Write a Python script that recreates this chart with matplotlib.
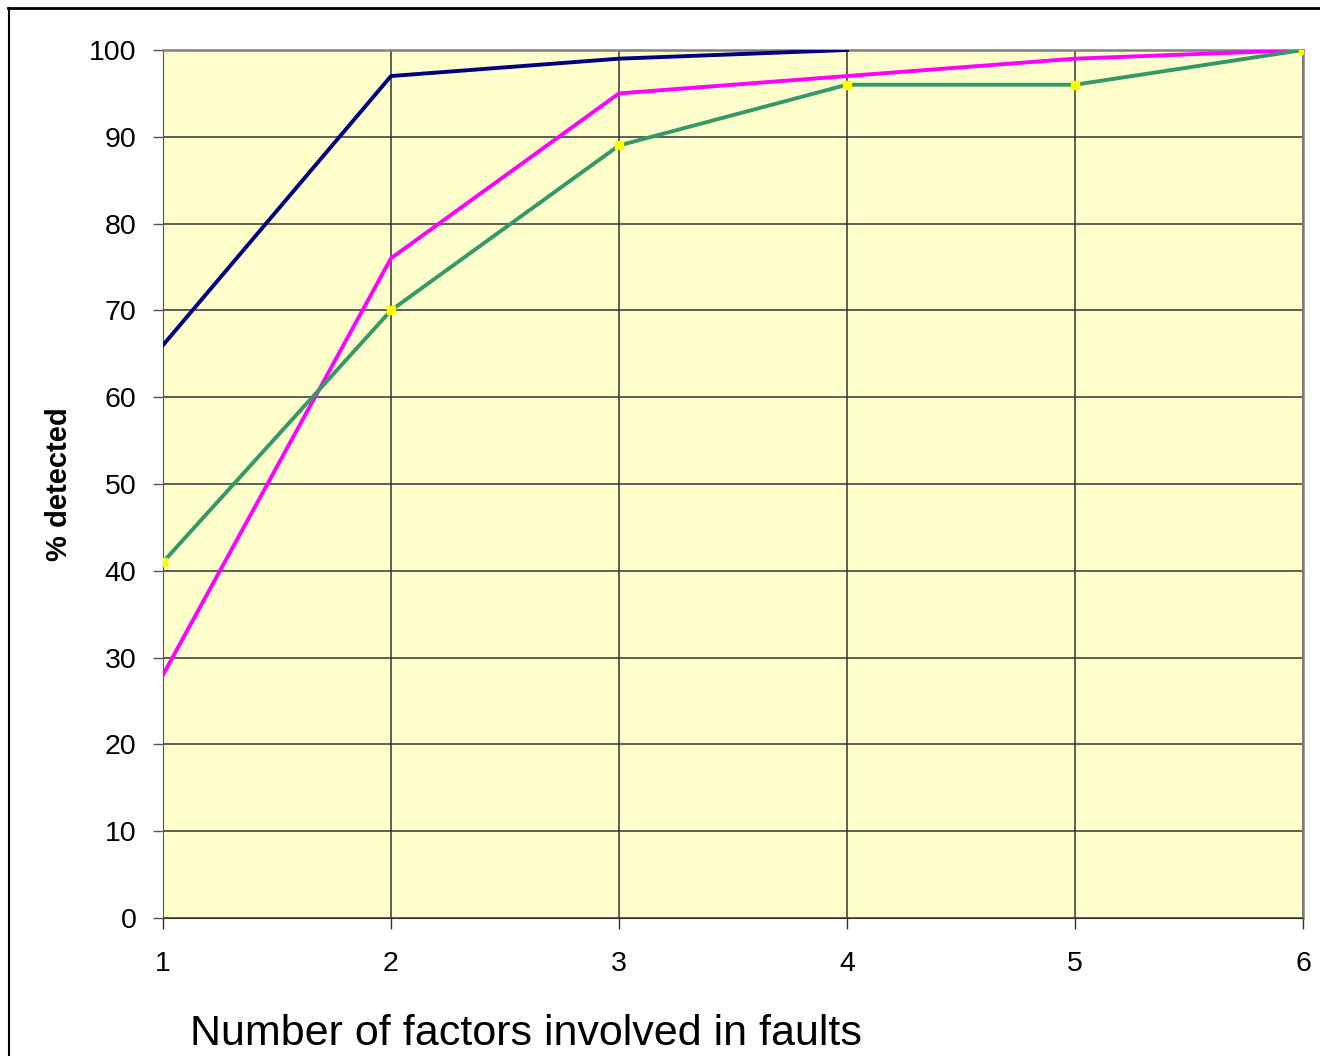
import matplotlib
matplotlib.use("Agg")
import matplotlib.pyplot as plt
from matplotlib.lines import Line2D

plt.rcParams['font.family'] = ['Liberation Sans', 'DejaVu Sans']

# data
factors = [1, 2, 3, 4, 5, 6]
navy_vals = [66, 97, 99, 100]
magenta_vals = [28, 76, 95, 97, 99, 100]
green_vals = [41, 70, 89, 96, 96, 100]
y_ticks = list(range(0, 101, 10))

fig = plt.figure(figsize=(13.2, 10.56), dpi=100)
ax = fig.add_axes([163/1320, 1 - 918/1056, (1303-163)/1320, (918-50)/1056])
ax.set_facecolor("#FFFFCC")

ax.plot(factors[:len(navy_vals)], navy_vals, color="#000080", lw=2.8, zorder=3)
ax.plot(factors, magenta_vals, color="#FF00FF", lw=2.8, zorder=3)
ax.plot(factors, green_vals, color="#339966", lw=2.8, zorder=3,
        marker="s", markersize=5.5, markerfacecolor="#FFFF00", markeredgecolor="#FFFF00")

ax.set_xlim(1, 6)
ax.set_ylim(0, 100)
ax.set_xticks(factors)
ax.set_yticks(y_ticks)
ax.grid(True, color="#333333", lw=1.1, zorder=1)
ax.set_axisbelow(True)
ax.tick_params(axis="y", labelsize=20.5, length=7, width=1, direction="out", pad=12, color="#555555")
ax.tick_params(axis="x", labelsize=20.5, length=8, width=1, direction="out", pad=16, color="#333333")

for side in ["top", "right"]:
    ax.spines[side].set_color("#808080")
    ax.spines[side].set_linewidth(1.8)
ax.spines["left"].set_color("#555555")
ax.spines["bottom"].set_color("#333333")

ax.set_ylabel("% detected", fontsize=21, fontweight="bold")
ax.yaxis.set_label_coords(-0.079, 0.5)

fig.text(190/1320, 1 - 1045/1056, "Number of factors involved in faults",
         fontsize=31, ha="left", va="baseline")

# outer border lines
fig.add_artist(Line2D([8/1320, 1.0], [1 - 8/1056] * 2, color="black", lw=2))
fig.add_artist(Line2D([9/1320] * 2, [0.0, 1 - 8/1056], color="black", lw=1.5))

fig.savefig("out.png", dpi=100)
